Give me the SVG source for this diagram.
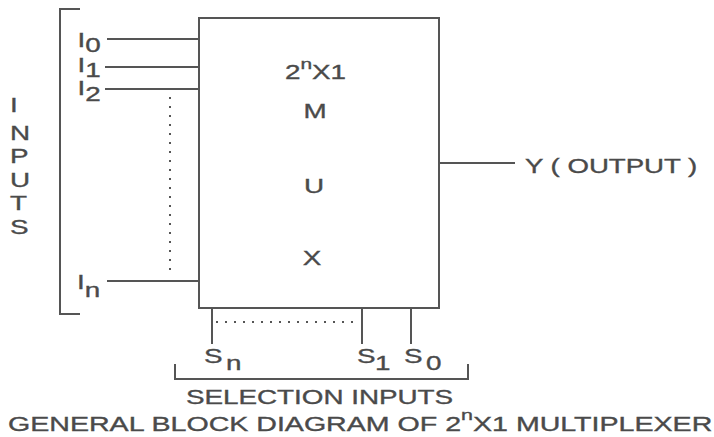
<svg xmlns="http://www.w3.org/2000/svg" width="714" height="437" viewBox="0 0 714 437">
<style>
.ln{stroke:#555;stroke-width:2;fill:none}
.dot{stroke:#555;stroke-width:2;fill:none;stroke-dasharray:2 7}
text{font-family:"Liberation Sans",Arial,sans-serif;font-size:20px;fill:#4a4a4a;stroke:#4a4a4a;stroke-width:0.35}
.sup{font-size:15px}
</style>
<rect width="714" height="437" fill="#fff"/>
<g id="mux">
<rect class="ln" x="199" y="18" width="240" height="290"/>
<text transform="translate(285 79) scale(1.39 1)" font-size="19">2<tspan class="sup" dy="-10">n</tspan><tspan dy="10">X1</tspan></text>
<text transform="translate(315 118) scale(1.39 1)" text-anchor="middle" font-size="19">M</text>
<text transform="translate(314 193) scale(1.39 1)" text-anchor="middle" font-size="19">U</text>
<text transform="translate(312 265) scale(1.39 1)" text-anchor="middle" font-size="19">X</text>
</g>
<g id="inputs">
<path class="ln" d="M80,9 H60 V314 H80"/>
<text transform="translate(10 112) scale(1.39 1)">I</text>
<text transform="translate(10 140) scale(1.39 1)">N</text>
<text transform="translate(10 163) scale(1.39 1)">P</text>
<text transform="translate(10 187) scale(1.39 1)">U</text>
<text transform="translate(10 210) scale(1.39 1)">T</text>
<text transform="translate(10 234) scale(1.39 1)">S</text>
<text transform="translate(77.5 47) scale(1.39 1)">I<tspan dy="5">0</tspan></text>
<text transform="translate(77.5 72) scale(1.39 1)">I<tspan dy="5">1</tspan></text>
<text transform="translate(77.5 95) scale(1.39 1)">I<tspan dy="6">2</tspan></text>
<text transform="translate(77 289) scale(1.39 1)">I<tspan dy="8">n</tspan></text>
</g>
<g id="output">
<text transform="translate(525 173) scale(1.38 1)" font-size="19.5">Y ( OUTPUT )</text>
</g>
<g id="selection">
<path class="ln" d="M175,364 V379 H468 V364"/>
<text transform="translate(204 363) scale(1.39 1)">S</text>
<text transform="translate(226 370) scale(1.39 1)">n</text>
<text transform="translate(357 363) scale(1.39 1)">S</text>
<text transform="translate(375 370) scale(1.39 1)">1</text>
<text transform="translate(404 363) scale(1.39 1)">S</text>
<text transform="translate(426 370) scale(1.39 1)">0</text>
<text transform="translate(319.5 404) scale(1.39 1)" text-anchor="middle">SELECTION INPUTS</text>
</g>
<g id="title">
<text transform="translate(8 431) scale(1.43 1)">GENERAL BLOCK DIAGRAM OF 2<tspan class="sup" dy="-11">n</tspan><tspan dy="11">X1 MULTIPLEXER</tspan></text>
</g>
<g id="connectors">
<line class="ln" x1="107" y1="39" x2="199" y2="39"/>
<line class="ln" x1="105" y1="67" x2="199" y2="67"/>
<line class="ln" x1="105" y1="89" x2="199" y2="89"/>
<line class="ln" x1="107" y1="281" x2="199" y2="281"/>
<line class="dot" x1="170" y1="97" x2="170" y2="273"/>
<line class="ln" x1="439" y1="163" x2="515" y2="163"/>
<line class="ln" x1="212" y1="308" x2="212" y2="344"/>
<line class="ln" x1="362" y1="308" x2="362" y2="344"/>
<line class="ln" x1="411" y1="308" x2="411" y2="344"/>
<line class="dot" x1="216" y1="322" x2="360" y2="322"/>
</g>
</svg>
